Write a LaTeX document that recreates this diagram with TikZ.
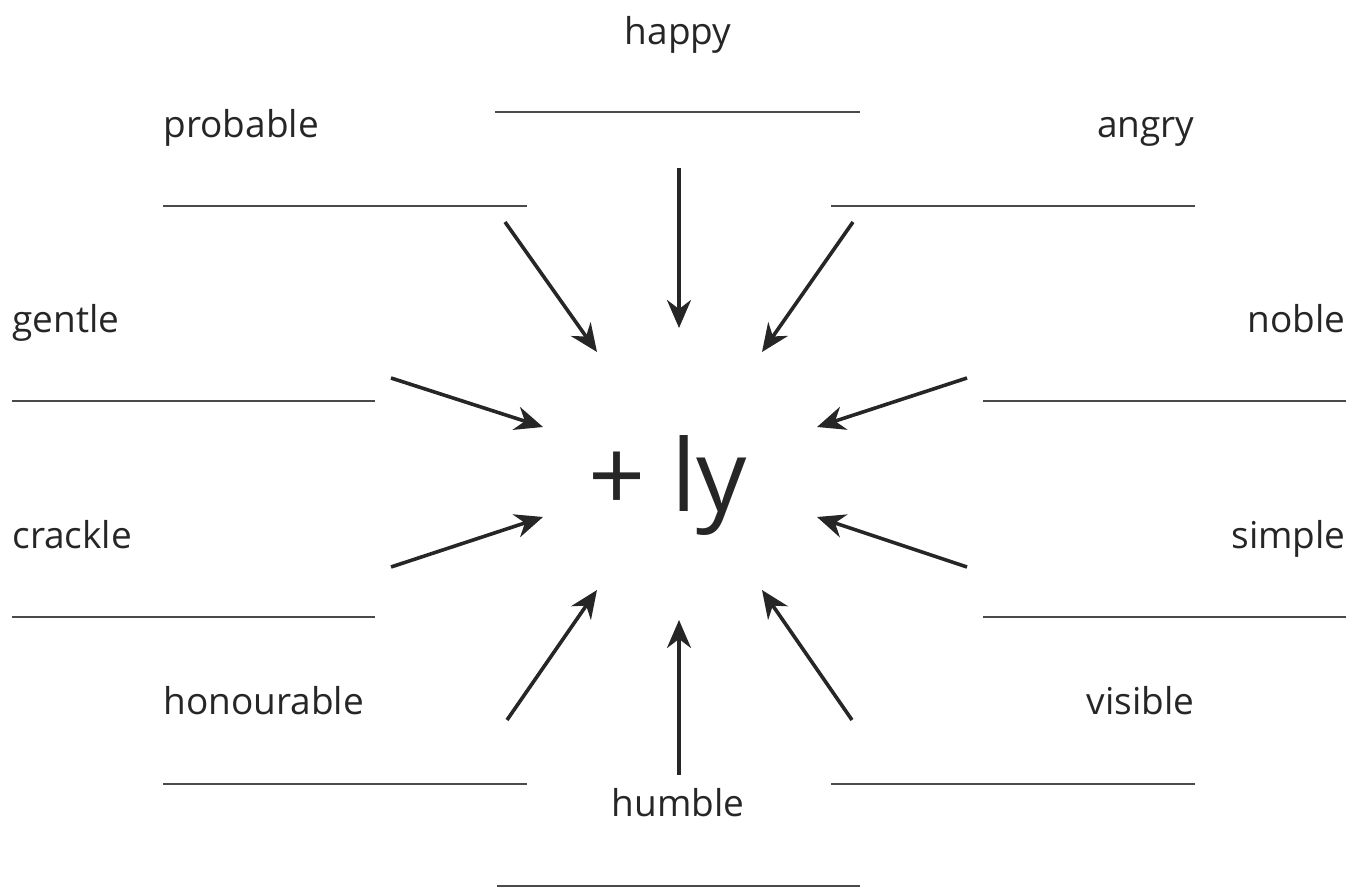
\documentclass[tikz,border=0pt]{standalone}
\usepackage{fontspec}
\setmainfont{Open Sans}
\usetikzlibrary{arrows.meta}
\definecolor{ink}{HTML}{262626}
\definecolor{rule}{HTML}{4A4A4A}
\tikzset{
  word/.style={inner sep=0pt, text=ink, font=\fontsize{18.5}{22}\selectfont},
  blank/.style={draw=rule, line width=1.4pt},
  pointer/.style={draw=ink, line width=1.8pt, -{Stealth[length=14pt, width=12pt, inset=4.5pt]}},
}
\begin{document}
\begin{tikzpicture}[x=0.5pt, y=-0.5pt]
\useasboundingbox (0,0) rectangle (1368,892);
% centre
\node[inner sep=0pt, text=ink, font=\fontsize{50}{60}\selectfont] (ly) at (668,486) {+ ly};
% words (anchored at baseline)
\node[word, anchor=base] (happy) at (678,45) {happy};
\node[word, anchor=base west] (probable) at (163,138) {probable};
\node[word, anchor=base east] (angry) at (1195,138) {angry};
\node[word, anchor=base west] (gentle) at (12,333) {gentle};
\node[word, anchor=base east] (noble) at (1346,333) {noble};
\node[word, anchor=base west] (crackle) at (12,548) {crackle};
\node[word, anchor=base east] (simple) at (1346,548) {simple};
\node[word, anchor=base west] (honourable) at (163,714) {honourable};
\node[word, anchor=base east] (visible) at (1195,714) {visible};
\node[word, anchor=base] (humble) at (678,816) {humble};
% answer lines
\draw[blank] (495,112) -- (860,112);
\draw[blank] (163,206) -- (527,206);
\draw[blank] (831,206) -- (1195,206);
\draw[blank] (12,401) -- (375,401);
\draw[blank] (983,401) -- (1346,401);
\draw[blank] (12,617) -- (375,617);
\draw[blank] (983,617) -- (1346,617);
\draw[blank] (163,784) -- (527,784);
\draw[blank] (831,784) -- (1195,784);
\draw[blank] (497,886) -- (860,886);
% arrow end points
\coordinate (s1) at (505,222); \coordinate (e1) at (597,352);
\coordinate (s2) at (679,168); \coordinate (e2) at (679,328);
\coordinate (s3) at (853,222); \coordinate (e3) at (762,352);
\coordinate (s4) at (391,378); \coordinate (e4) at (543,427);
\coordinate (s5) at (967,378); \coordinate (e5) at (817,427);
\coordinate (s6) at (391,567); \coordinate (e6) at (543,517);
\coordinate (s7) at (967,567); \coordinate (e7) at (817,517);
\coordinate (s8) at (507,720); \coordinate (e8) at (597,590);
\coordinate (s9) at (679,775); \coordinate (e9) at (679,620);
\coordinate (s10) at (852,720); \coordinate (e10) at (762,590);
\foreach \i in {1,...,10} { \draw[pointer] (s\i) -- (e\i); }
\end{tikzpicture}
\end{document}
